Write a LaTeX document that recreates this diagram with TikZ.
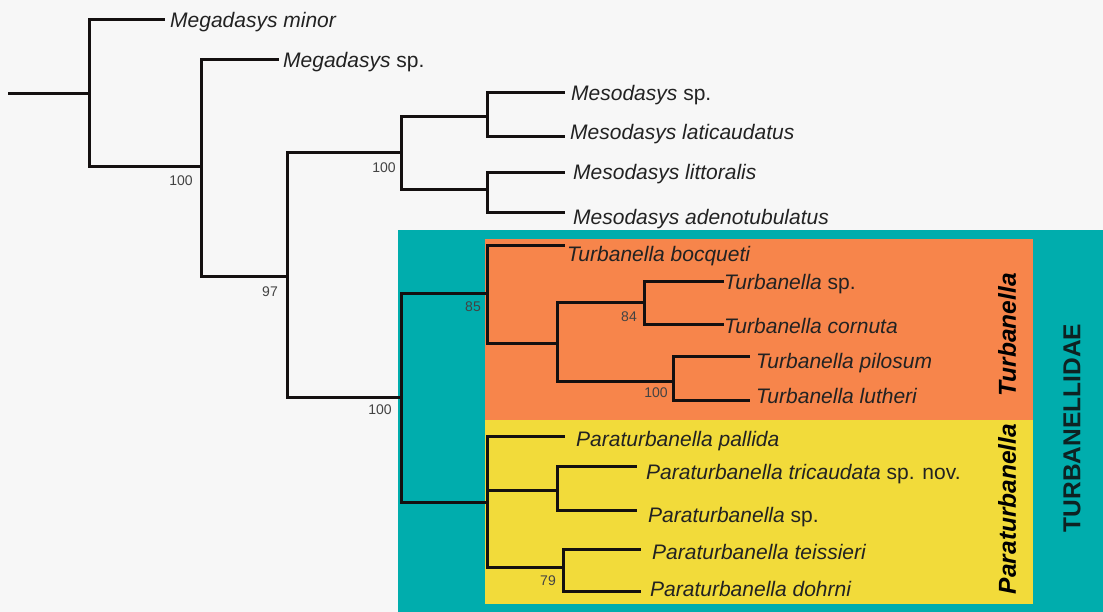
\documentclass[tikz,border=0pt]{standalone}
\usepackage{fontspec}
\setmainfont{Liberation Sans}
\definecolor{bgc}{HTML}{F7F7F7}
\definecolor{tealc}{HTML}{00ADAD}
\definecolor{orangec}{HTML}{F7854B}
\definecolor{yellowc}{HTML}{F2DB3A}
\definecolor{linec}{HTML}{141010}
\definecolor{txt}{HTML}{222222}
\definecolor{famc}{HTML}{0E2222}
\begin{document}
\begin{tikzpicture}[x=1pt,y=-1pt,
  branch/.style={line width=3pt, draw=linec, line cap=rect},
  leaf/.style={anchor=base west, font=\fontsize{21}{25}\selectfont, text=txt, inner sep=0pt},
  supp/.style={font=\fontsize{14}{16}\selectfont, text=txt!85, inner sep=0pt},
  clade/.style={font=\fontsize{24.5}{28}\selectfont\bfseries\itshape, text=black, inner sep=0pt, rotate=90},
  fam/.style={font=\fontsize{24.5}{28}\selectfont\bfseries, text=famc, inner sep=0pt, rotate=90}]
\useasboundingbox (0,0) rectangle (1103,612);
\fill[bgc] (0,0) rectangle (1103,612);
\fill[tealc] (398,230) rectangle (1103,612);
\fill[orangec] (485,239) rectangle (1033,420);
\fill[yellowc] (485,420) rectangle (1033,604);

% internal nodes
\coordinate (R) at (9,94);
\coordinate (A) at (89,94);
\coordinate (B) at (201,167);
\coordinate (C) at (287,277);
\coordinate (D) at (401,153);
\coordinate (E) at (487,117);
\coordinate (F) at (487,190);
\coordinate (G) at (401,397);
\coordinate (H) at (487,294);
\coordinate (I) at (557,343);
\coordinate (J) at (644,303);
\coordinate (K) at (673,381);
\coordinate (L) at (487,502);
\coordinate (M) at (557,490);
\coordinate (N) at (563,567);
% tips
\coordinate (t1) at (163,20);
\coordinate (t2) at (277,60);
\coordinate (t3) at (563,93);
\coordinate (t4) at (563,137);
\coordinate (t5) at (563,173);
\coordinate (t6) at (563,213);
\coordinate (t7) at (563,246);
\coordinate (t8) at (722,282);
\coordinate (t9) at (722,325);
\coordinate (t10) at (748,356);
\coordinate (t11) at (748,400);
\coordinate (t12) at (563,436);
\coordinate (t13) at (635,466);
\coordinate (t14) at (635,510);
\coordinate (t15) at (639,549);
\coordinate (t16) at (639,591);

\draw[branch] (R) -- (A);
\draw[branch] (A) |- (t1);
\draw[branch] (A) |- (B);
\draw[branch] (B) |- (t2);
\draw[branch] (B) |- (C);
\draw[branch] (C) |- (D);
\draw[branch] (C) |- (G);
\draw[branch] (D) |- (E);
\draw[branch] (D) |- (F);
\draw[branch] (E) |- (t3);
\draw[branch] (E) |- (t4);
\draw[branch] (F) |- (t5);
\draw[branch] (F) |- (t6);
\draw[branch] (G) |- (H);
\draw[branch] (G) |- (L);
\draw[branch] (H) |- (t7);
\draw[branch] (H) |- (I);
\draw[branch] (I) |- (J);
\draw[branch] (I) |- (K);
\draw[branch] (J) |- (t8);
\draw[branch] (J) |- (t9);
\draw[branch] (K) |- (t10);
\draw[branch] (K) |- (t11);
\draw[branch] (L) |- (t12);
\draw[branch] (L) |- (M);
\draw[branch] (L) |- (N);
\draw[branch] (M) |- (t13);
\draw[branch] (M) |- (t14);
\draw[branch] (N) |- (t15);
\draw[branch] (N) |- (t16);

% leaf labels
\node[leaf] (l1) at (170,28) {\itshape Megadasys minor};
\node[leaf] (l2) at (283,68) {\itshape Megadasys\/\upshape{} sp.};
\node[leaf] (l3) at (571,101) {\itshape Mesodasys\/\upshape{} sp.};
\node[leaf] (l4) at (570,140) {\itshape Mesodasys laticaudatus};
\node[leaf] (l5) at (573,180) {\itshape Mesodasys littoralis};
\node[leaf] (l6) at (573,225) {\itshape Mesodasys adenotubulatus};
\node[leaf] (l7) at (567,262) {\itshape Turbanella bocqueti};
\node[leaf] (l8) at (724,290) {\itshape Turbanella\/\upshape{} sp.};
\node[leaf] (l9) at (724,334) {\itshape Turbanella cornuta};
\node[leaf] (l10) at (756,368) {\itshape Turbanella pilosum};
\node[leaf] (l11) at (756,403) {\itshape Turbanella lutheri};
\node[leaf] (l12) at (576,446) {\itshape Paraturbanella pallida};
\node[leaf] (l13) at (646,479) {\itshape Paraturbanella tricaudata\/\upshape{} sp. nov.};
\node[leaf] (l14) at (648,522) {\itshape Paraturbanella\/\upshape{} sp.};
\node[leaf] (l15) at (652,559) {\itshape Paraturbanella teissieri};
\node[leaf] (l16) at (650,596) {\itshape Paraturbanella dohrni};

% support values
\node[supp] (s1) at (181,181) {100};
\node[supp] (s2) at (270,292) {97};
\node[supp] (s3) at (384,168) {100};
\node[supp] (s4) at (380,410) {100};
\node[supp] (s5) at (473,307) {85};
\node[supp] (s6) at (629,317) {84};
\node[supp] (s7) at (656,393) {100};
\node[supp] (s8) at (548,581) {79};

% clade labels
\node[clade] (c1) at (1007,335) {Turbanella};
\node[clade] (c2) at (1007,509) {Paraturbanella};
\node[fam] (f1) at (1072,428) {TURBANELLIDAE};
\end{tikzpicture}
\end{document}
